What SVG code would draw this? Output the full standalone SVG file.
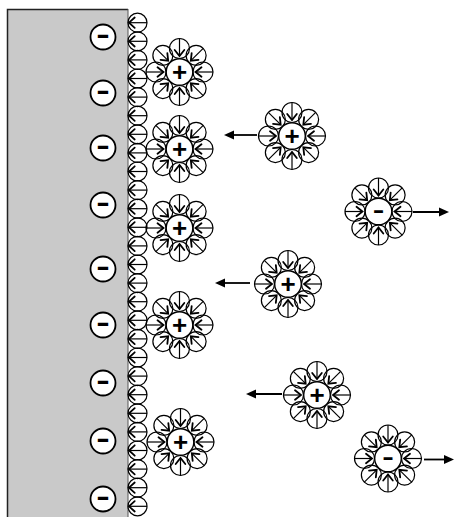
<svg xmlns="http://www.w3.org/2000/svg" xmlns:xlink="http://www.w3.org/1999/xlink" width="455" height="517" viewBox="0 0 455 517">
  <style>
    .ring { fill: none; stroke: #000; stroke-width: 1.2; }
    .dip { fill: none; stroke: #000; stroke-width: 1.2; }
    .head { fill: none; stroke: #000; stroke-width: 1.8; stroke-linecap: round; stroke-linejoin: miter; }
    .core { fill: #fff; stroke: #000; stroke-width: 1.4; }
    .charge { fill: #fff; stroke: #000; stroke-width: 1.8; }
    .sign { font-family: "Liberation Sans", Arial, sans-serif; font-weight: bold; text-anchor: middle; fill: #000; }
    .flow { stroke: #000; stroke-width: 1.8; fill: none; }
  </style>
  <defs>
    <!-- water dipole in a hydration shell: arrow points towards -x -->
    <g id="h2o">
      <circle class="ring" r="10"/>
      <line class="dip" x1="10" y1="0" x2="-7.5" y2="0"/>
      <polyline class="head" points="-1.5,-4.8 -7.5,0 -1.5,4.8"/>
    </g>
    <!-- water dipole adsorbed on the electrode -->
    <g id="h2o-wall">
      <circle class="ring" r="9.5"/>
      <line class="dip" x1="9.5" y1="0" x2="-8.5" y2="0"/>
      <polyline class="head" points="-2.8,-5.2 -8.5,0 -2.8,5.2"/>
    </g>
    <!-- eight oriented water molecules around an ion -->
    <g id="shell">
      <use xlink:href="#h2o" transform="rotate(0) translate(23.5,0)"/>
      <use xlink:href="#h2o" transform="rotate(45) translate(23.5,0)"/>
      <use xlink:href="#h2o" transform="rotate(90) translate(23.5,0)"/>
      <use xlink:href="#h2o" transform="rotate(135) translate(23.5,0)"/>
      <use xlink:href="#h2o" transform="rotate(180) translate(23.5,0)"/>
      <use xlink:href="#h2o" transform="rotate(225) translate(23.5,0)"/>
      <use xlink:href="#h2o" transform="rotate(270) translate(23.5,0)"/>
      <use xlink:href="#h2o" transform="rotate(315) translate(23.5,0)"/>
      <circle class="core" r="13.3"/>
    </g>
    <marker id="tip" markerUnits="userSpaceOnUse" markerWidth="12" markerHeight="12" viewBox="0 0 12 12" refX="7" refY="6" orient="auto">
      <path d="M0,1.5 L10,6 L0,10.5 Z" fill="#000"/>
    </marker>
  </defs>

  <!-- electrode -->
  <g id="electrode">
    <rect x="7" y="9" width="121" height="512" fill="#c9c9c9"/>
    <path d="M7.5,517 V9.5 H128" fill="none" stroke="#222" stroke-width="1.5"/>
    <line x1="128" y1="9" x2="128" y2="517" stroke="#555" stroke-width="1"/>
  </g>

  <!-- negative surface charges -->
  <g id="surface-charges">
    <g id="q1"><circle class="charge" cx="103" cy="37" r="12.5"/><text class="sign" font-size="28" transform="translate(103,44.3) scale(1.45,1)">-</text></g>
    <g id="q2"><circle class="charge" cx="103" cy="93" r="12.5"/><text class="sign" font-size="28" transform="translate(103,100.3) scale(1.45,1)">-</text></g>
    <g id="q3"><circle class="charge" cx="103" cy="148" r="12.5"/><text class="sign" font-size="28" transform="translate(103,155.3) scale(1.45,1)">-</text></g>
    <g id="q4"><circle class="charge" cx="103" cy="205" r="12.5"/><text class="sign" font-size="28" transform="translate(103,212.3) scale(1.45,1)">-</text></g>
    <g id="q5"><circle class="charge" cx="103" cy="269" r="12.5"/><text class="sign" font-size="28" transform="translate(103,276.3) scale(1.45,1)">-</text></g>
    <g id="q6"><circle class="charge" cx="103" cy="325" r="12.5"/><text class="sign" font-size="28" transform="translate(103,332.3) scale(1.45,1)">-</text></g>
    <g id="q7"><circle class="charge" cx="103" cy="383" r="12.5"/><text class="sign" font-size="28" transform="translate(103,390.3) scale(1.45,1)">-</text></g>
    <g id="q8"><circle class="charge" cx="103" cy="441" r="12.5"/><text class="sign" font-size="28" transform="translate(103,448.3) scale(1.45,1)">-</text></g>
    <g id="q9"><circle class="charge" cx="103" cy="499" r="12.5"/><text class="sign" font-size="28" transform="translate(103,506.3) scale(1.45,1)">-</text></g>
  </g>

  <!-- adsorbed water layer -->
  <g id="water-layer">
    <use xlink:href="#h2o-wall" x="137.5" y="22.7"/>
    <use xlink:href="#h2o-wall" x="137.5" y="41.3"/>
    <use xlink:href="#h2o-wall" x="137.5" y="59.9"/>
    <use xlink:href="#h2o-wall" x="137.5" y="78.5"/>
    <use xlink:href="#h2o-wall" x="137.5" y="97.1"/>
    <use xlink:href="#h2o-wall" x="137.5" y="115.7"/>
    <use xlink:href="#h2o-wall" x="137.5" y="134.3"/>
    <use xlink:href="#h2o-wall" x="137.5" y="152.9"/>
    <use xlink:href="#h2o-wall" x="137.5" y="171.5"/>
    <use xlink:href="#h2o-wall" x="137.5" y="190.1"/>
    <use xlink:href="#h2o-wall" x="137.5" y="208.7"/>
    <use xlink:href="#h2o-wall" x="137.5" y="227.3"/>
    <use xlink:href="#h2o-wall" x="137.5" y="245.9"/>
    <use xlink:href="#h2o-wall" x="137.5" y="264.5"/>
    <use xlink:href="#h2o-wall" x="137.5" y="283.1"/>
    <use xlink:href="#h2o-wall" x="137.5" y="301.7"/>
    <use xlink:href="#h2o-wall" x="137.5" y="320.3"/>
    <use xlink:href="#h2o-wall" x="137.5" y="338.9"/>
    <use xlink:href="#h2o-wall" x="137.5" y="357.5"/>
    <use xlink:href="#h2o-wall" x="137.5" y="376.1"/>
    <use xlink:href="#h2o-wall" x="137.5" y="394.7"/>
    <use xlink:href="#h2o-wall" x="137.5" y="413.3"/>
    <use xlink:href="#h2o-wall" x="137.5" y="431.9"/>
    <use xlink:href="#h2o-wall" x="137.5" y="450.5"/>
    <use xlink:href="#h2o-wall" x="137.5" y="469.1"/>
    <use xlink:href="#h2o-wall" x="137.5" y="487.7"/>
    <use xlink:href="#h2o-wall" x="137.5" y="506.3"/>
  </g>

  <!-- hydrated cations held at the surface -->
  <g id="cation-1"><use xlink:href="#shell" transform="translate(179.5,72)"/><text class="sign" font-size="26" x="179.5" y="81.1">+</text></g>
  <g id="cation-2"><use xlink:href="#shell" transform="translate(179.5,149)"/><text class="sign" font-size="26" x="179.5" y="158.1">+</text></g>
  <g id="cation-3"><use xlink:href="#shell" transform="translate(179.5,228)"/><text class="sign" font-size="26" x="179.5" y="237.1">+</text></g>
  <g id="cation-4"><use xlink:href="#shell" transform="translate(179.5,325)"/><text class="sign" font-size="26" x="179.5" y="334.1">+</text></g>
  <g id="cation-5"><use xlink:href="#shell" transform="translate(180.5,442)"/><text class="sign" font-size="26" x="180.5" y="451.1">+</text></g>

  <!-- mobile hydrated cations -->
  <g id="cation-6"><use xlink:href="#shell" transform="translate(292,136)"/><text class="sign" font-size="26" x="292" y="145.1">+</text></g>
  <g id="cation-7"><use xlink:href="#shell" transform="translate(288,284)"/><text class="sign" font-size="26" x="288" y="293.1">+</text></g>
  <g id="cation-8"><use xlink:href="#shell" transform="translate(317,395)"/><text class="sign" font-size="26" x="317" y="404.1">+</text></g>

  <!-- mobile hydrated anions -->
  <g id="anion-1"><use xlink:href="#shell" transform="translate(378.5,211.5)"/><text class="sign" font-size="24" transform="translate(378.5,217.8) scale(1.45,1)">-</text></g>
  <g id="anion-2"><use xlink:href="#shell" transform="translate(388,458.5)"/><text class="sign" font-size="24" transform="translate(388,464.8) scale(1.45,1)">-</text></g>

  <!-- drift directions -->
  <g id="connectors">
    <line class="flow" x1="257" y1="135" x2="227" y2="135" marker-end="url(#tip)"/>
    <line class="flow" x1="413" y1="212" x2="446" y2="212" marker-end="url(#tip)"/>
    <line class="flow" x1="250" y1="283" x2="218" y2="283" marker-end="url(#tip)"/>
    <line class="flow" x1="282" y1="394" x2="249" y2="394" marker-end="url(#tip)"/>
    <line class="flow" x1="424" y1="459.5" x2="451" y2="459.5" marker-end="url(#tip)"/>
  </g>
</svg>
